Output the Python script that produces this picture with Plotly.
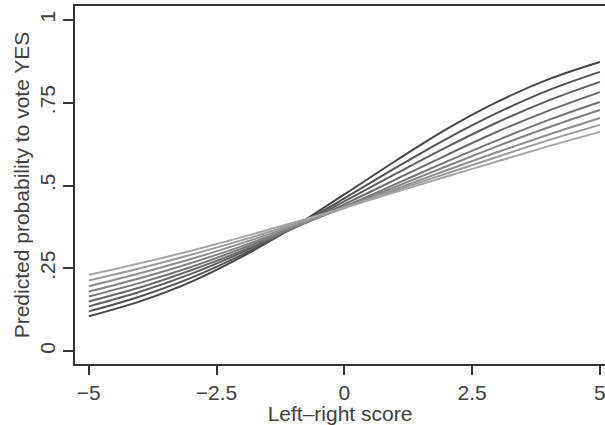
import plotly.graph_objects as go

x_scores = [-5, -4, -3, -2, -1, 0, 1, 2, 3, 4, 5]

curve_1 = [0.105, 0.150, 0.209, 0.285, 0.374, 0.473, 0.574, 0.670, 0.753, 0.821, 0.873]
curve_2 = [0.120, 0.165, 0.221, 0.291, 0.372, 0.461, 0.553, 0.641, 0.720, 0.788, 0.843]
curve_3 = [0.135, 0.179, 0.233, 0.298, 0.371, 0.452, 0.535, 0.616, 0.691, 0.757, 0.813]
curve_4 = [0.150, 0.192, 0.244, 0.303, 0.371, 0.443, 0.518, 0.592, 0.663, 0.726, 0.782]
curve_5 = [0.165, 0.206, 0.254, 0.310, 0.371, 0.436, 0.504, 0.572, 0.637, 0.698, 0.752]
curve_6 = [0.180, 0.220, 0.266, 0.317, 0.374, 0.434, 0.496, 0.558, 0.619, 0.676, 0.728]
curve_7 = [0.196, 0.235, 0.278, 0.326, 0.378, 0.432, 0.489, 0.546, 0.601, 0.654, 0.704]
curve_8 = [0.213, 0.250, 0.291, 0.335, 0.383, 0.433, 0.485, 0.536, 0.587, 0.637, 0.683]
curve_9 = [0.230, 0.265, 0.303, 0.344, 0.388, 0.433, 0.480, 0.527, 0.573, 0.619, 0.662]

curves = [curve_1, curve_2, curve_3, curve_4, curve_5, curve_6, curve_7, curve_8, curve_9]
colors = ["#464646", "#525252", "#5e5e5e", "#6a6a6a", "#767676",
          "#828282", "#8e8e8e", "#9a9a9a", "#a6a6a6"]

y_tickvals = [0, 0.25, 0.5, 0.75, 1]
y_ticktext = ["0", ".25", ".5", ".75", "1"]
x_tickvals = [-5, -2.5, 0, 2.5, 5]
x_ticktext = ["\u22125", "\u22122.5", "0", "2.5", "5"]

fig = go.Figure()
for ys, c in zip(curves, colors):
    fig.add_trace(go.Scatter(x=x_scores, y=ys, mode="lines",
                             line=dict(color=c, width=2, shape="spline"),
                             showlegend=False, hoverinfo="skip"))

fam = "Liberation Sans, Arial, sans-serif"
txtcol = "#404040"
tickfont = dict(family=fam, size=21, color=txtcol)

fig.update_layout(
    width=605, height=425,
    margin=dict(l=75, r=0, t=6, b=61),
    paper_bgcolor="white", plot_bgcolor="white",
    font=dict(family=fam, size=21, color=txtcol),
    xaxis=dict(range=[-5.27, 5.1], tickvals=x_tickvals, ticktext=x_ticktext,
               showgrid=False, zeroline=False, showline=True, linecolor="#333333",
               linewidth=1.5, mirror=True, ticks="outside", ticklen=9, tickwidth=1.5,
               tickcolor="#333333", automargin=False, ticklabeloverflow="allow",
               ticklabelstandoff=0,
               title=dict(text="Left\u2013right score", standoff=0,
                          font=dict(family=fam, size=21, color=txtcol)),
               tickfont=tickfont),
    yaxis=dict(range=[-0.039, 1.042], tickvals=y_tickvals, ticktext=y_ticktext,
               showgrid=False, zeroline=False, showline=True, linecolor="#333333",
               linewidth=1.5, mirror=False, ticks="outside", ticklen=10, tickwidth=1.5,
               tickcolor="#333333", tickangle=-90, automargin=False,
               title=dict(text="Predicted probability to vote YES", standoff=0,
                          font=dict(family=fam, size=21, color=txtcol)),
               tickfont=tickfont),
)

fig.write_html("out.html", config={"displayModeBar": False},
               post_script="document.body.style.margin='0';document.body.style.overflow='hidden';")
